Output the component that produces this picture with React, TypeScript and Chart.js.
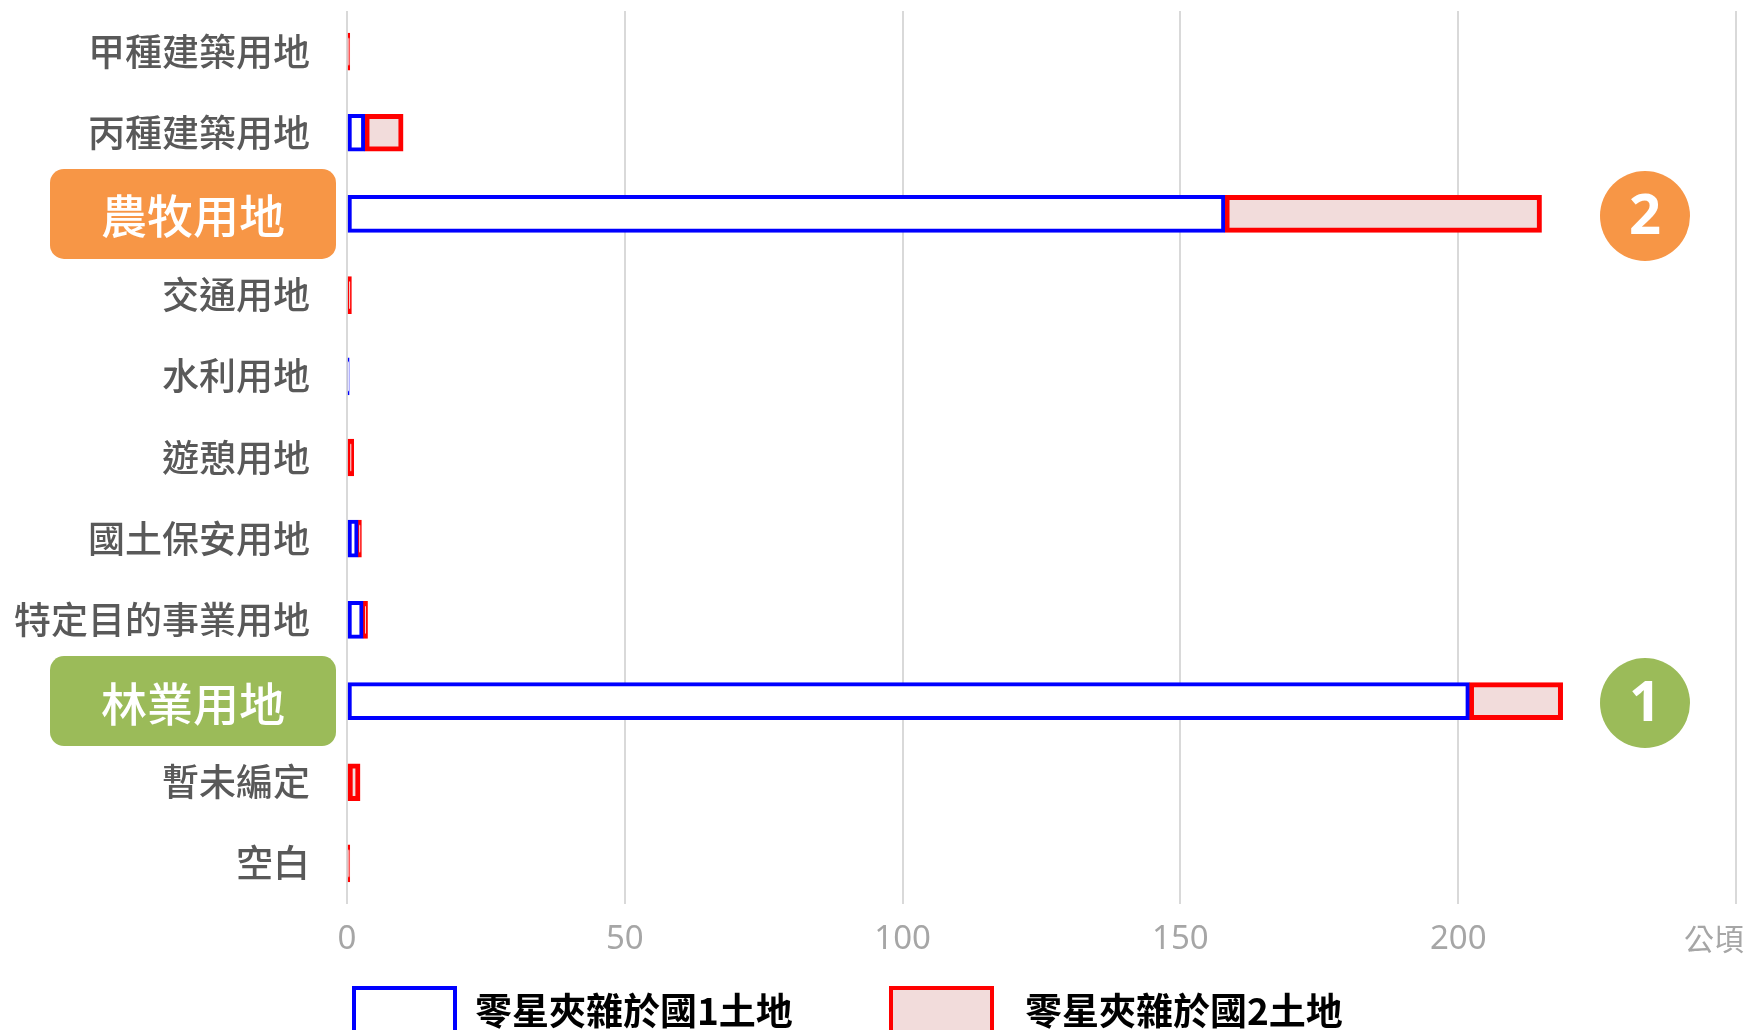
import React, { useEffect, useRef } from "react";
import { Chart, registerables } from "chart.js";

Chart.register(...registerables);

const categories = [
  "甲種建築用地",
  "丙種建築用地",
  "農牧用地",
  "交通用地",
  "水利用地",
  "遊憩用地",
  "國土保安用地",
  "特定目的事業用地",
  "林業用地",
  "暫未編定",
  "空白",
];
const land1Values = [0, 3.2, 158, 0, 0.4, 0, 2.0, 2.9, 202, 0, 0];
const land2Values = [0.5, 6.9, 57, 0.8, 0, 1.2, 0.6, 0.8, 16.8, 2.35, 0.5];
const seriesNames = ["零星夾雜於國1土地", "零星夾雜於國2土地"];
const xTicks = [0, 50, 100, 150, 200, 250];
const unitLabel = "公頃";
// highlighted categories: [category index, rank label, colour]
const highlights: [number, string, string][] = [
  [2, "2", "#F79646"],
  [8, "1", "#9BBB59"],
];

const CJK = "'Noto Sans CJK TC', 'Noto Sans', sans-serif";

function roundRect(ctx: CanvasRenderingContext2D, x: number, y: number, w: number, h: number, r: number) {
  ctx.beginPath();
  ctx.moveTo(x + r, y);
  ctx.lineTo(x + w - r, y);
  ctx.arcTo(x + w, y, x + w, y + r, r);
  ctx.lineTo(x + w, y + h - r);
  ctx.arcTo(x + w, y + h, x + w - r, y + h, r);
  ctx.lineTo(x + r, y + h);
  ctx.arcTo(x, y + h, x, y + h - r, r);
  ctx.lineTo(x, y + r);
  ctx.arcTo(x, y, x + r, y, r);
  ctx.closePath();
}

const overlayPlugin = {
  id: "overlays",
  afterDraw(chart: any) {
    const ctx: CanvasRenderingContext2D = chart.ctx;
    const yScale = chart.scales.y;
    const xScale = chart.scales.x;
    ctx.save();
    // highlighted category boxes and rank circles
    highlights.forEach(([idx, rank, color]) => {
      const y = yScale.getPixelForValue(idx);
      ctx.fillStyle = color;
      roundRect(ctx, 50, y - 45, 286, 90, 14);
      ctx.fill();
      ctx.fillStyle = "#FFFFFF";
      ctx.font = `500 46px ${CJK}`;
      ctx.textAlign = "center";
      ctx.textBaseline = "middle";
      ctx.fillText(categories[idx], 193, y + 2);

      ctx.beginPath();
      ctx.fillStyle = color;
      ctx.arc(1645, y + 2, 45, 0, Math.PI * 2);
      ctx.fill();
      ctx.fillStyle = "#FFFFFF";
      ctx.font = `bold 56px 'Noto Sans', sans-serif`;
      ctx.fillText(rank, 1645, y + 4);
    });
    // unit label
    ctx.fillStyle = "#A6A6A6";
    ctx.font = `30px ${CJK}`;
    ctx.textAlign = "center";
    ctx.textBaseline = "middle";
    ctx.fillText(unitLabel, xScale.getPixelForValue(250) - 22, 939);

    // legend
    const ds = chart.data.datasets;
    const items = [
      { bx: 354, tx: 475 },
      { bx: 891, tx: 1025 },
    ];
    items.forEach((it, i) => {
      ctx.fillStyle = ds[i].backgroundColor;
      ctx.strokeStyle = ds[i].borderColor;
      ctx.lineWidth = 4;
      ctx.fillRect(it.bx, 988, 101, 50);
      ctx.strokeRect(it.bx, 988, 101, 50);
      ctx.fillStyle = "#000000";
      ctx.font = `bold 37px ${CJK}`;
      ctx.textAlign = "left";
      ctx.textBaseline = "middle";
      ctx.fillText(ds[i].label, it.tx, 1011);
    });
    ctx.restore();
  },
};

export default function App() {
  const canvasRef = useRef<HTMLCanvasElement | null>(null);

  useEffect(() => {
    if (!canvasRef.current) return;
    const hlIdx = highlights.map((h) => h[0]);
    const chart = new Chart(canvasRef.current, {
      type: "bar",
      data: {
        labels: categories,
        datasets: [
          {
            label: seriesNames[0],
            data: land1Values,
            backgroundColor: "#FFFFFF",
            borderColor: "#0000FF",
            borderWidth: 4,
            borderSkipped: false,
            barThickness: 37,
          },
          {
            label: seriesNames[1],
            data: land2Values,
            backgroundColor: "#F2DCDB",
            borderColor: "#FF0000",
            borderWidth: 5,
            borderSkipped: false,
            barThickness: 37,
          },
        ],
      },
      options: {
        indexAxis: "y",
        animation: false,
        responsive: true,
        maintainAspectRatio: false,
        layout: { padding: { top: 11, right: 11, left: 0, bottom: 0 } },
        plugins: {
          legend: { display: false },
          tooltip: { enabled: false },
        },
        scales: {
          x: {
            stacked: true,
            min: 0,
            max: 250,
            afterBuildTicks: (scale: any) => {
              scale.ticks = xTicks.map((v) => ({ value: v }));
            },
            afterFit: (scale: any) => {
              scale.height = 126;
              scale.paddingLeft = 0;
              scale.paddingRight = 0;
            },
            grid: {
              color: "#D9D9D9",
              lineWidth: 2,
              drawTicks: false,
            },
            border: { display: false },
            ticks: {
              padding: 16,
              color: "#A6A6A6",
              font: { family: "'Noto Sans', sans-serif", size: 33 },
              callback: (v: any) => (v === 250 ? "" : String(v)),
            },
          },
          y: {
            stacked: true,
            afterFit: (scale: any) => {
              scale.width = 347;
              scale.paddingTop = 0;
              scale.paddingBottom = 0;
            },
            grid: { display: false, drawTicks: false },
            border: { display: false },
            ticks: {
              padding: 37,
              color: "#595959",
              font: { family: CJK, size: 37, weight: "500" },
              callback: (_v: any, i: number) => (hlIdx.includes(i) ? "" : categories[i]),
            },
          },
        },
      },
      plugins: [overlayPlugin],
    } as any);
    return () => chart.destroy();
  }, []);

  return (
    <div style={{ position: "fixed", left: 0, top: 0, width: 1747, height: 1030, background: "#FFFFFF" }}>
      <canvas ref={canvasRef} />
    </div>
  );
}
